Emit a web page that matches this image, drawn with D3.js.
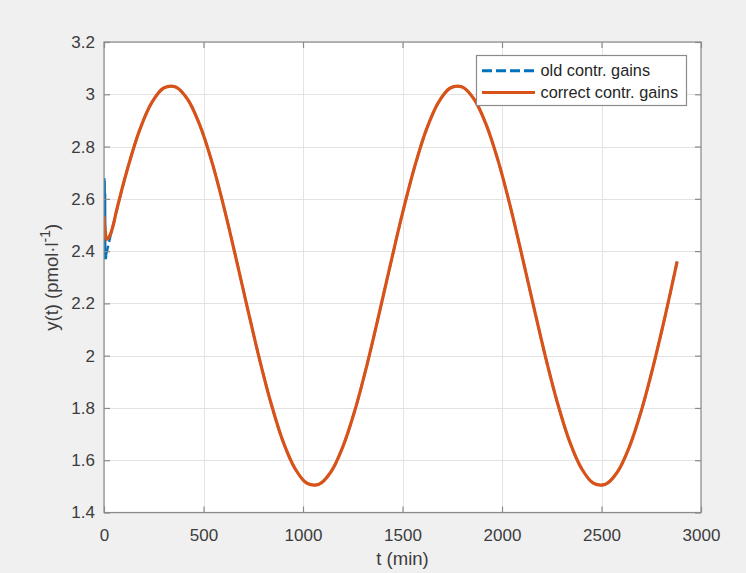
<!DOCTYPE html>
<html>
<head>
<meta charset="utf-8">
<script src="https://cdn.jsdelivr.net/npm/d3@7"></script>
<style>
  html, body { margin: 0; padding: 0; background: #f0f0f0; }
  svg { display: block; font-family: "Liberation Sans", Arial, sans-serif; }
</style>
</head>
<body>
<div id="chart"></div>
<script>
// ---- data ----
const seriesNames = ["old contr. gains", "correct contr. gains"];
const seriesColors = ["#0072BD", "#D95319"];

const oldT =   [0, 1, 2, 3, 4, 5, 7, 10, 20, 40];
const oldY =   [2.68, 2.40, 2.67, 2.41, 2.62, 2.38, 2.37, 2.384, 2.417, 2.482];

const correctT = [0, 6, 13, 22, 35, 50];
const correctY = [2.535, 2.48, 2.445, 2.45, 2.47, 2.51];

// shared part of both responses (t in minutes, y in pmol/l)
const commonT = [60, 120, 180, 240, 300, 360, 420, 480, 540, 600, 660, 720, 780, 840, 900, 960,
  1020, 1080, 1140, 1200, 1260, 1320, 1380, 1440, 1500, 1560, 1620, 1680, 1740, 1800, 1860,
  1920, 1980, 2040, 2100, 2160, 2220, 2280, 2340, 2400, 2460, 2520, 2580, 2640, 2700, 2760,
  2820, 2880];
const commonY = [2.545, 2.720, 2.865, 2.968, 3.024, 3.028, 2.981, 2.885, 2.747, 2.576, 2.384,
  2.185, 1.991, 1.816, 1.671, 1.568, 1.512, 1.508, 1.555, 1.651, 1.789, 1.960, 2.152, 2.351,
  2.545, 2.720, 2.865, 2.968, 3.024, 3.028, 2.981, 2.885, 2.747, 2.576, 2.384, 2.185, 1.991,
  1.816, 1.671, 1.568, 1.512, 1.508, 1.555, 1.651, 1.789, 1.960, 2.152, 2.360];

const xTicks = [0, 500, 1000, 1500, 2000, 2500, 3000];
const yTicks = [1.4, 1.6, 1.8, 2, 2.2, 2.4, 2.6, 2.8, 3, 3.2];
const xLabel = "t (min)";

// ---- layout ----
const W = 746, H = 573;
const L = 104, R = 701, T = 42, B = 512.5;

const svg = d3.select("#chart").append("svg").attr("width", W).attr("height", H);
svg.append("rect").attr("width", W).attr("height", H).attr("fill", "#f0f0f0");

const x = d3.scaleLinear().domain([0, 3000]).range([L, R]);
const y = d3.scaleLinear().domain([1.4, 3.2]).range([B, T]);

svg.append("rect").attr("x", L).attr("y", T).attr("width", R - L).attr("height", B - T).attr("fill", "#fff");

// grid
const grid = svg.append("g").attr("stroke", "#e3e3e3").attr("stroke-width", 1);
grid.selectAll("line.gx").data(xTicks).join("line")
  .attr("x1", d => Math.round(x(d)) + 0.5).attr("x2", d => Math.round(x(d)) + 0.5)
  .attr("y1", T).attr("y2", B);
grid.selectAll("line.gy").data(yTicks).join("line")
  .attr("y1", d => Math.round(y(d)) + 0.5).attr("y2", d => Math.round(y(d)) + 0.5)
  .attr("x1", L).attr("x2", R);

// lines
svg.append("clipPath").attr("id", "clip").append("rect")
  .attr("x", L).attr("y", T).attr("width", R - L).attr("height", B - T);

const toPts = (ts, ys) => ts.map((t, i) => [t, ys[i]]);
const oldPts = toPts(oldT, oldY).concat(toPts(commonT, commonY));
const corPts = toPts(correctT, correctY).concat(toPts(commonT, commonY));

const line = d3.line().x(d => x(d[0])).y(d => y(d[1]));
const smooth = d3.line().x(d => x(d[0])).y(d => y(d[1])).curve(d3.curveCatmullRom.alpha(0.5));

const plot = svg.append("g").attr("clip-path", "url(#clip)");
// old gains: jagged start drawn straight, rest smooth
plot.append("path").datum(toPts(oldT, oldY).slice(0, 8)).attr("d", line)
  .attr("fill", "none").attr("stroke", seriesColors[0]).attr("stroke-width", 3);
plot.append("path").datum(oldPts.slice(7)).attr("d", smooth)
  .attr("fill", "none").attr("stroke", seriesColors[0]).attr("stroke-width", 2.4)
  .attr("stroke-dasharray", "10,4");
plot.append("path").datum(corPts).attr("d", smooth)
  .attr("fill", "none").attr("stroke", seriesColors[1]).attr("stroke-width", 3.2)
  .attr("stroke-linejoin", "round");

// box
const axisColor = "#8a8a8a";
svg.append("rect").attr("x", L).attr("y", T).attr("width", R - L).attr("height", B - T)
  .attr("fill", "none").attr("stroke", axisColor).attr("stroke-width", 1.2);

// axes via d3
const tickLen = 6;
const xAxis = d3.axisBottom(x).tickValues(xTicks).tickSize(-tickLen).tickPadding(12).tickFormat(d3.format("d"));
const xAxisTop = d3.axisTop(x).tickValues(xTicks).tickSize(-tickLen).tickFormat("");
const yAxis = d3.axisLeft(y).tickValues(yTicks).tickSize(-tickLen).tickPadding(9).tickFormat(d => d3.format("")(d));
const yAxisRight = d3.axisRight(y).tickValues(yTicks).tickSize(-tickLen).tickFormat("");

function style(g) {
  g.select(".domain").remove();
  g.selectAll(".tick line").attr("stroke", axisColor).attr("stroke-width", 1.2);
  g.selectAll(".tick text").attr("fill", "#3c3c3c").attr("font-size", 17)
    .attr("font-family", "'Liberation Sans', Arial, sans-serif");
}
svg.append("g").attr("transform", `translate(0,${B})`).call(xAxis).call(style)
  .selectAll(".tick text").attr("dy", "0.95em");
svg.append("g").attr("transform", `translate(0,${T})`).call(xAxisTop).call(style);
svg.append("g").attr("transform", `translate(${L},0)`).call(yAxis).call(style);
svg.append("g").attr("transform", `translate(${R},0)`).call(yAxisRight).call(style);

// axis labels
svg.append("text").attr("x", (L + R) / 2).attr("y", 565).attr("text-anchor", "middle")
  .attr("font-size", 18.5).attr("fill", "#3c3c3c").text(xLabel);

const yl = svg.append("text").attr("transform", `translate(58,${(T + B) / 2}) rotate(-90)`)
  .attr("text-anchor", "middle").attr("font-size", 18.5).attr("fill", "#3c3c3c");
yl.append("tspan").text("y(t) (pmol·l");
yl.append("tspan").attr("font-size", 14).attr("dy", -8).text("-1");
yl.append("tspan").attr("dy", 8).text(")");

// legend
const lg = svg.append("g");
lg.append("rect").attr("x", 476.5).attr("y", 55.5).attr("width", 210).attr("height", 50)
  .attr("fill", "#fff").attr("stroke", axisColor).attr("stroke-width", 1.2);
const rows = [70.7, 92.5];
seriesNames.forEach((name, i) => {
  lg.append("line").attr("x1", 482).attr("x2", 535).attr("y1", rows[i]).attr("y2", rows[i])
    .attr("stroke", seriesColors[i]).attr("stroke-width", 3)
    .attr("stroke-dasharray", i === 0 ? "10,4" : null);
  lg.append("text").attr("x", 540.5).attr("y", rows[i]).attr("dy", "0.35em")
    .attr("font-size", 16.3).attr("fill", "#262626").text(name);
});
</script>
</body>
</html>
